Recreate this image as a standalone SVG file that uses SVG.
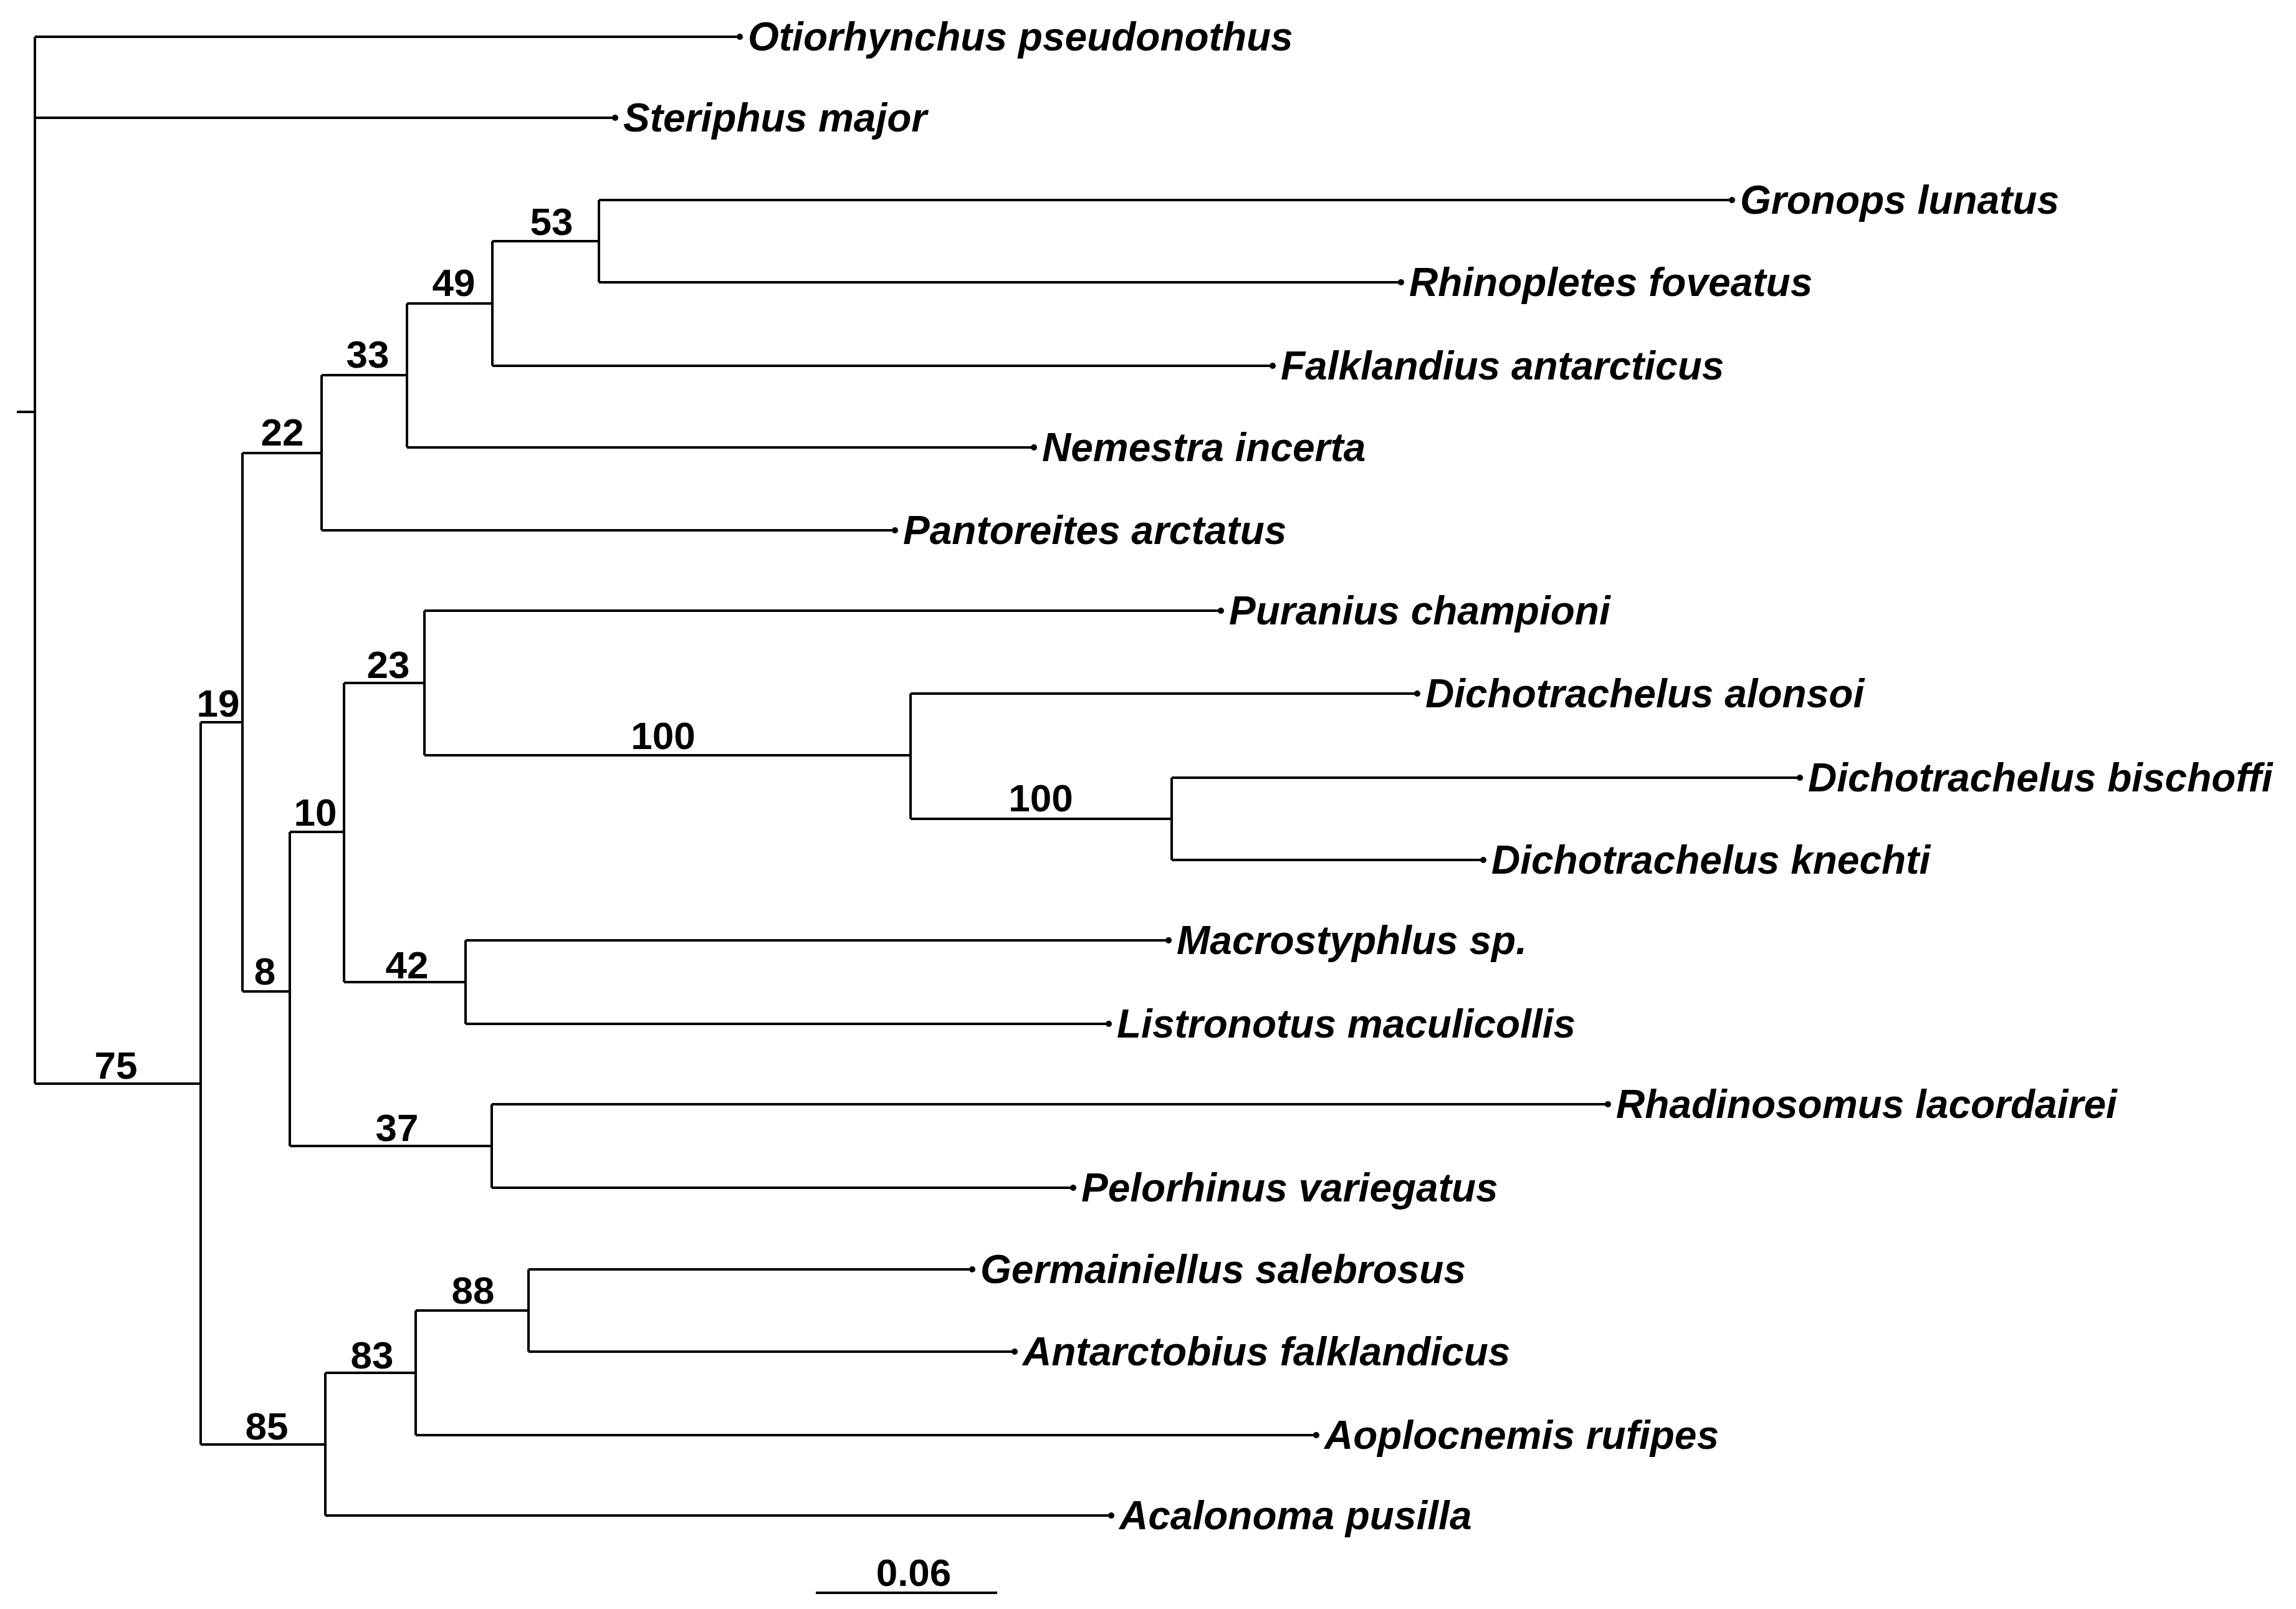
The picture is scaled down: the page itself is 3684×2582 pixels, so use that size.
<svg xmlns="http://www.w3.org/2000/svg" width="3684" height="2582" viewBox="0 0 3684 2582">
<style>
.e{fill:none;stroke:#000;stroke-width:4}
.t{font-family:"Liberation Sans",Arial,sans-serif;font-weight:bold;font-style:italic;font-size:64px;fill:#000}
.b{font-family:"Liberation Sans",Arial,sans-serif;font-weight:bold;font-size:62px;fill:#000;text-anchor:middle}
.d{fill:#000}
</style>
<rect width="3684" height="2582" fill="#fff"/>
<g id="edges" class="e">
<path d="M27 661H56M56 59V1739M56 59H1187M56 189H987M56 1739H322"/>
<path d="M322 1159V2318M322 1159H389M389 727V1591"/>
<path d="M389 727H516M516 602V851M516 851H1436M516 602H653M653 487V718M653 718H1659M653 487H790M790 387V587M790 587H2042M790 387H961M961 321V453M961 321H2779M961 453H2248"/>
<path d="M389 1591H465M465 1335V1839M465 1335H552M552 1096V1576M552 1096H681M681 980V1212M681 980H1959M681 1212H1461M1461 1113V1314M1461 1113H2274M1461 1314H1880M1880 1248V1380M1880 1248H2888M1880 1380H2380"/>
<path d="M552 1576H747M747 1509V1643M747 1509H1875M747 1643H1779"/>
<path d="M465 1839H789M789 1772V1906M789 1772H2580M789 1906H1722"/>
<path d="M322 2318H522M522 2203V2432M522 2432H1783M522 2203H667M667 2103V2303M667 2303H2112M667 2103H848M848 2037V2169M848 2037H1560M848 2169H1628"/>
<path d="M1309 2556H1600"/>
</g>
<g id="dots" class="d">
<circle cx="1187" cy="59" r="5"/><circle cx="987" cy="189" r="5"/><circle cx="2779" cy="321" r="5"/><circle cx="2248" cy="453" r="5"/><circle cx="2042" cy="587" r="5"/><circle cx="1659" cy="718" r="5"/><circle cx="1436" cy="851" r="5"/><circle cx="1959" cy="980" r="5"/><circle cx="2274" cy="1113" r="5"/><circle cx="2888" cy="1248" r="5"/><circle cx="2380" cy="1380" r="5"/><circle cx="1875" cy="1509" r="5"/><circle cx="1779" cy="1643" r="5"/><circle cx="2580" cy="1772" r="5"/><circle cx="1722" cy="1906" r="5"/><circle cx="1560" cy="2037" r="5"/><circle cx="1628" cy="2169" r="5"/><circle cx="2112" cy="2303" r="5"/><circle cx="1783" cy="2432" r="5"/>
</g>
<g id="taxa" class="t">
<text x="1200" y="81">Otiorhynchus pseudonothus</text>
<text x="1000" y="211">Steriphus major</text>
<text x="2792" y="343">Gronops lunatus</text>
<text x="2261" y="475">Rhinopletes foveatus</text>
<text x="2055" y="609">Falklandius antarcticus</text>
<text x="1672" y="740">Nemestra incerta</text>
<text x="1449" y="873">Pantoreites arctatus</text>
<text x="1972" y="1002">Puranius championi</text>
<text x="2287" y="1135">Dichotrachelus alonsoi</text>
<text x="2901" y="1270">Dichotrachelus bischoffi</text>
<text x="2393" y="1402">Dichotrachelus knechti</text>
<text x="1888" y="1531">Macrostyphlus sp.</text>
<text x="1792" y="1665">Listronotus maculicollis</text>
<text x="2593" y="1794">Rhadinosomus lacordairei</text>
<text x="1735" y="1928">Pelorhinus variegatus</text>
<text x="1573" y="2059">Germainiellus salebrosus</text>
<text x="1641" y="2191">Antarctobius falklandicus</text>
<text x="2125" y="2325">Aoplocnemis rufipes</text>
<text x="1796" y="2454">Acalonoma pusilla</text>
</g>
<g id="support" class="b">
<text x="885" y="377">53</text>
<text x="728" y="475">49</text>
<text x="590" y="590">33</text>
<text x="453" y="715">22</text>
<text x="350" y="1150">19</text>
<text x="425" y="1580">8</text>
<text x="506" y="1325">10</text>
<text x="623" y="1088">23</text>
<text x="1064" y="1202">100</text>
<text x="1670" y="1302">100</text>
<text x="653" y="1570">42</text>
<text x="637" y="1831">37</text>
<text x="186" y="1731">75</text>
<text x="759" y="2092">88</text>
<text x="597" y="2196">83</text>
<text x="428" y="2310">85</text>
<text x="1466" y="2545">0.06</text>
</g>
</svg>
